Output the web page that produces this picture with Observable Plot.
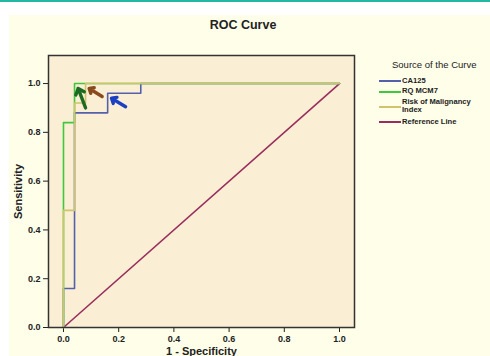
<!DOCTYPE html>
<html>
<head>
<meta charset="utf-8">
<script src="https://cdn.jsdelivr.net/npm/d3@7"></script>
<script src="https://cdn.jsdelivr.net/npm/@observablehq/plot@0.6"></script>
<style>
  html, body { margin: 0; padding: 0; background: #ffffff; width: 490px; height: 356px; overflow: hidden; font-family: "Liberation Sans", Arial, sans-serif; }
  #page { position: relative; width: 490px; height: 356px; }
  #topline { position: absolute; left: 0; top: 0; width: 490px; height: 2px; background: #22b8a2; }
  #cream { position: absolute; left: 9px; top: 15px; width: 481px; height: 341px; background: #fefee9; }
  #title { position: absolute; left: 0; width: 490px; top: 18px; font-weight: bold; font-size: 12.5px; color: #222; }
  #title span { position: absolute; left: 243px; transform: translateX(-50%); white-space: nowrap; }
  #chart { position: absolute; left: 0; top: 0; }
  #legend { position: absolute; left: 379px; top: 59px; width: 115px; color: #222; }
  #legend .head { position: absolute; left: 13px; top: 0; font-size: 9.5px; white-space: nowrap; }
  .item { position: absolute; left: 0; white-space: nowrap; font-size: 7.6px; font-weight: bold; line-height: 8px; }
  .sw { position: absolute; left: 0; width: 22px; height: 2px; }
  .lbl { position: absolute; left: 23px; }
  #chart svg [aria-label="x-axis label"] text, #chart svg [aria-label="y-axis label"] text { font-size: 11px; font-weight: bold; }
</style>
</head>
<body>
<div id="page">
  <div id="topline"></div>
  <div id="cream"></div>
  <div id="chart"></div>
  <div id="title"><span>ROC Curve</span></div>
  <div id="legend"></div>
</div>
<script>
// Curve data (1 - Specificity, Sensitivity)
const fprCA125 = [0, 0, 0.04, 0.04, 0.16, 0.16, 0.28, 0.28, 1];
const tprCA125 = [0, 0.16, 0.16, 0.88, 0.88, 0.96, 0.96, 1, 1];
const fprMCM7 = [0, 0, 0.04, 0.04, 1];
const tprMCM7 = [0, 0.84, 0.84, 1, 1];
const fprRMI = [0, 0, 0.04, 0.04, 0.08, 0.08, 1];
const tprRMI = [0, 0.48, 0.48, 0.92, 0.92, 1, 1];
const fprRef = [0, 1];
const tprRef = [0, 1];

const seriesNames = ["CA125", "RQ MCM7", "Risk of Malignancy Index", "Reference Line"];
const seriesColors = ["#5560ac", "#3ec83e", "#cfc46c", "#9b2d5e"];

const tickValues = [0, 0.2, 0.4, 0.6, 0.8, 1.0];

// Annotation arrows
const arrowX1 = [0.08, 0.14, 0.225];
const arrowY1 = [0.90, 0.947, 0.905];
const arrowX2 = [0.053, 0.093, 0.174];
const arrowY2 = [0.98, 0.98, 0.94];
const arrowColors = ["#1d6a22", "#8a4a1f", "#1c40c4"];

function toRows(xs, ys, name) { return xs.map((x, i) => ({ x, y: ys[i], name })); }
const rows = [
  ...toRows(fprRef, tprRef, seriesNames[3]),
  ...toRows(fprCA125, tprCA125, seriesNames[0]),
  ...toRows(fprMCM7, tprMCM7, seriesNames[1]),
  ...toRows(fprRMI, tprRMI, seriesNames[2])
];
const arrows = arrowX1.map((x1, i) => ({ x1, y1: arrowY1[i], x2: arrowX2[i], y2: arrowY2[i], c: arrowColors[i] }));

const chart = Plot.plot({
  width: 490,
  height: 356,
  marginLeft: 48,
  marginRight: 136,
  marginTop: 55,
  marginBottom: 29,
  style: { background: "transparent", fontFamily: "'Liberation Sans', Arial, sans-serif", fontSize: "9px", fontWeight: "bold", color: "#222" },
  x: { domain: [-0.0543, 1.0543], ticks: tickValues, tickFormat: d3.format(".1f"), label: "1 - Specificity", labelArrow: "none", labelAnchor: "center", labelOffset: 27, tickSize: 5, tickPadding: 3 },
  y: { domain: [0, 1.115], ticks: tickValues, tickFormat: d3.format(".1f"), label: "Sensitivity", labelArrow: "none", labelAnchor: "center", labelOffset: 34, tickSize: 5, tickPadding: 3 },
  color: { domain: seriesNames, range: seriesColors },
  marks: [
    Plot.frame({ fill: "#faefd4" }),
    Plot.line(rows, { x: "x", y: "y", z: "name", stroke: "name", strokeWidth: 1.6 }),
    Plot.arrow(arrows, { x1: "x1", y1: "y1", x2: "x2", y2: "y2", stroke: "c", strokeWidth: 3.4, headLength: 9, headAngle: 80 }),
    Plot.frame({ stroke: "#333", strokeWidth: 1.5 })
  ]
});
document.getElementById("chart").appendChild(chart);

// Legend
const legend = document.getElementById("legend");
const head = document.createElement("div");
head.className = "head";
head.textContent = "Source of the Curve";
legend.appendChild(head);
const itemTops = [17.5, 28, 39, 58.5];
const swatchOffsets = [3.5, 3.5, 7.5, 3.5];
const labelLines = [["CA125"], ["RQ MCM7"], ["Risk of Malignancy", "Index"], ["Reference Line"]];
seriesNames.forEach((name, i) => {
  const it = document.createElement("div");
  it.className = "item";
  it.style.top = itemTops[i] + "px";
  const sw = document.createElement("div");
  sw.className = "sw";
  sw.style.background = seriesColors[i];
  sw.style.top = swatchOffsets[i] + "px";
  it.appendChild(sw);
  const lb = document.createElement("div");
  lb.className = "lbl";
  lb.innerHTML = labelLines[i].join("<br>");
  it.appendChild(lb);
  legend.appendChild(it);
});
</script>
</body>
</html>
